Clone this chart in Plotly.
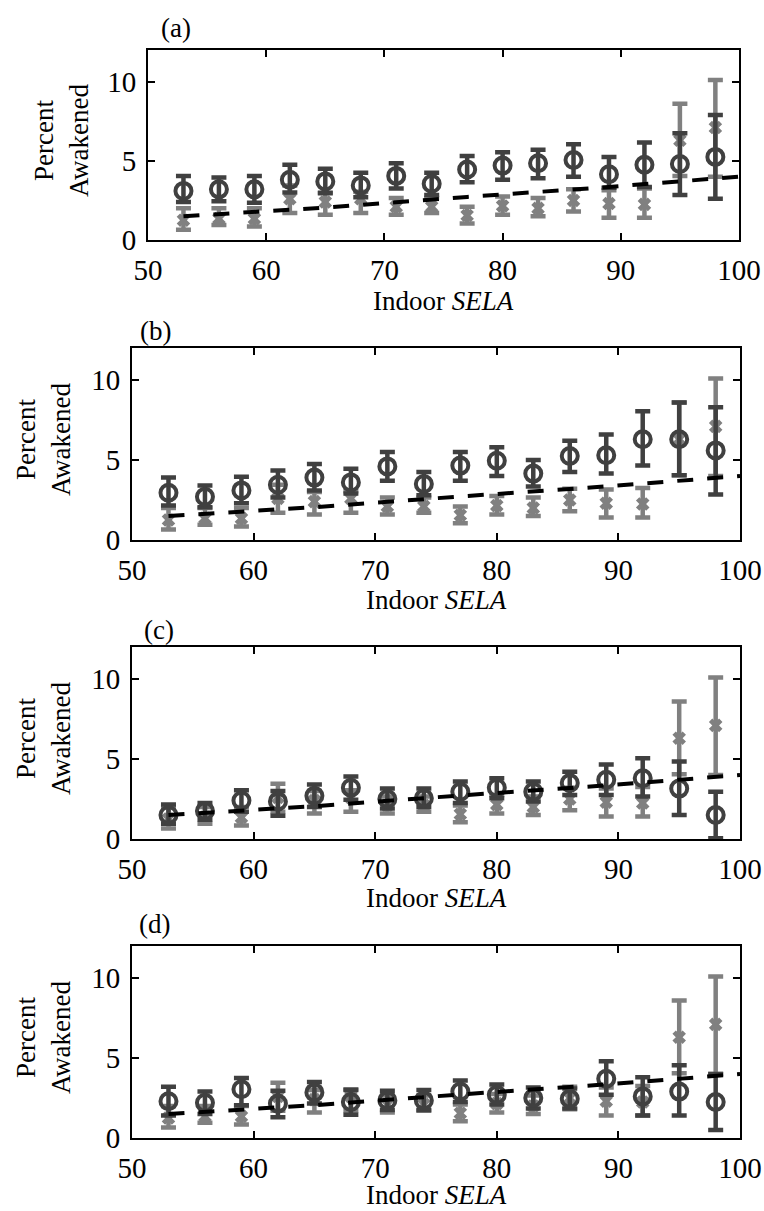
import plotly.graph_objects as go

# ---------------- data ----------------
sela = [53, 56, 59, 62, 65, 68, 71, 74, 77, 80, 83, 86, 89, 92, 95, 98]

# reference series (light grey, identical in every panel)
ref_val = [1.25, 1.35, 1.35, 2.6, 2.4, 2.6, 2.1, 2.1, 1.55, 2.15, 2.0, 2.5, 2.3, 2.25, 6.3, 7.1]
ref_lo = [0.65, 0.95, 0.85, 1.7, 1.6, 1.7, 1.6, 1.7, 1.05, 1.6, 1.5, 1.8, 1.4, 1.4, 4.05, 4.0]
ref_hi = [2.0, 2.0, 2.0, 3.45, 3.0, 3.05, 2.65, 2.65, 2.1, 2.75, 2.65, 3.2, 3.15, 3.25, 8.6, 10.1]

# panel series (dark grey circles)
a_val = [3.1, 3.2, 3.2, 3.8, 3.7, 3.45, 4.05, 3.55, 4.45, 4.7, 4.85, 5.05, 4.15, 4.75, 4.8, 5.25]
a_lo = [2.4, 2.45, 2.35, 3.0, 2.95, 2.7, 3.25, 2.85, 3.65, 3.8, 3.9, 4.0, 3.3, 3.35, 2.85, 2.6]
a_hi = [4.05, 3.95, 4.05, 4.75, 4.5, 4.25, 4.85, 4.25, 5.3, 5.55, 5.7, 6.05, 5.25, 6.15, 6.75, 7.9]

b_val = [2.95, 2.7, 3.1, 3.45, 3.9, 3.6, 4.6, 3.5, 4.65, 4.95, 4.15, 5.25, 5.3, 6.3, 6.3, 5.6]
b_lo = [2.15, 2.05, 2.3, 2.65, 3.1, 2.9, 3.7, 2.8, 3.7, 4.0, 3.35, 4.25, 4.15, 4.65, 4.05, 2.85]
b_hi = [3.9, 3.4, 3.95, 4.35, 4.75, 4.45, 5.5, 4.25, 5.5, 5.8, 5.0, 6.2, 6.6, 8.05, 8.6, 8.3]

c_val = [1.5, 1.75, 2.4, 2.35, 2.7, 3.2, 2.5, 2.55, 2.95, 3.2, 2.95, 3.5, 3.7, 3.8, 3.15, 1.5]
c_lo = [0.95, 1.2, 1.7, 1.45, 2.0, 2.45, 1.9, 2.0, 2.25, 2.55, 2.35, 2.75, 2.75, 2.65, 1.5, 0.05]
c_hi = [2.15, 2.25, 3.05, 3.0, 3.4, 3.9, 3.15, 3.15, 3.6, 3.8, 3.6, 4.2, 4.65, 5.05, 4.85, 2.95]

d_val = [2.3, 2.2, 3.05, 2.15, 2.85, 2.25, 2.35, 2.35, 2.9, 2.7, 2.5, 2.45, 3.7, 2.6, 2.9, 2.25]
d_lo = [1.4, 1.5, 2.05, 1.3, 2.15, 1.45, 1.75, 1.75, 2.25, 2.1, 1.85, 1.85, 2.7, 1.4, 1.4, 0.5]
d_hi = [3.2, 2.9, 3.75, 2.95, 3.5, 3.0, 2.95, 3.0, 3.6, 3.35, 3.15, 3.1, 4.8, 3.8, 4.55, 4.0]

# dose-response fit (black dashed)
fit_x = [53, 65, 77, 89, 100]
fit_y = [1.5, 2.05, 2.72, 3.35, 4.0]

panel_labels = ["(a)", "(b)", "(c)", "(d)"]
x_ticks = [50, 60, 70, 80, 90, 100]
y_ticks = [0, 5, 10]

# ---------------- layout geometry (pixels in 764x1211) ----------------
W, H = 764, 1211
panels = [
    dict(val=a_val, lo=a_lo, hi=a_hi, x0=148, x1=739, top=50, bot=240,
         lab=(176, 28), ytitle_x=62, xtitle_y=301),
    dict(val=b_val, lo=b_lo, hi=b_hi, x0=132, x1=740, top=348, bot=540,
         lab=(155, 331), ytitle_x=43, xtitle_y=600),
    dict(val=c_val, lo=c_lo, hi=c_hi, x0=132, x1=740, top=647, bot=839,
         lab=(159, 630), ytitle_x=43, xtitle_y=898),
    dict(val=d_val, lo=d_lo, hi=d_hi, x0=132, x1=740, top=946, bot=1138,
         lab=(154, 924), ytitle_x=43, xtitle_y=1195),
]

DARK = "#404040"
LIGHT = "#808080"
FONT = "Liberation Serif"
FS = 29
FT = 27

fig = go.Figure()
layout = dict(
    width=W, height=H, margin=dict(l=0, r=0, t=0, b=0),
    paper_bgcolor="white", plot_bgcolor="white", showlegend=False,
    font=dict(family=FONT, size=FS, color="black"),
)
annotations = []

for i, p in enumerate(panels):
    n = "" if i == 0 else str(i + 1)
    xa, ya = "x" + n, "y" + n
    # light reference series
    fig.add_trace(go.Scatter(
        x=sela, y=ref_val, xaxis=xa, yaxis=ya, mode="markers",
        marker=dict(symbol="x", size=12, line=dict(width=0), color=LIGHT),
        error_y=dict(type="data", symmetric=False,
                     array=[h - v for h, v in zip(ref_hi, ref_val)],
                     arrayminus=[v - l for v, l in zip(ref_val, ref_lo)],
                     color=LIGHT, thickness=4.5, width=7.5),
    ))
    # dark panel series
    fig.add_trace(go.Scatter(
        x=sela, y=p["val"], xaxis=xa, yaxis=ya, mode="markers",
        marker=dict(symbol="circle-open", size=16, line=dict(width=4, color=DARK), color=DARK),
        error_y=dict(type="data", symmetric=False,
                     array=[h - v for h, v in zip(p["hi"], p["val"])],
                     arrayminus=[v - l for v, l in zip(p["val"], p["lo"])],
                     color=DARK, thickness=4.5, width=7.5),
    ))
    # fit line
    fig.add_trace(go.Scatter(
        x=fit_x, y=fit_y, xaxis=xa, yaxis=ya, mode="lines",
        line=dict(color="black", width=4, dash="16px,14px"),
    ))

    axis_common = dict(
        showline=True, linecolor="black", linewidth=2, mirror="ticks",
        ticks="inside", ticklen=7, tickwidth=1.5, tickcolor="black",
        showgrid=False, zeroline=False, automargin=False,
        tickfont=dict(family=FONT, size=FS, color="black"),
    )
    layout["xaxis" + n] = dict(
        axis_common, range=[50, 100], tickvals=x_ticks,
        ticktext=[str(t) for t in x_ticks],
        domain=[p["x0"] / W, p["x1"] / W], anchor=ya,
        ticklabelstandoff=3,
    )
    layout["yaxis" + n] = dict(
        axis_common, range=[0, 12], tickvals=y_ticks,
        ticktext=[str(t) for t in y_ticks],
        domain=[1 - p["bot"] / H, 1 - p["top"] / H], anchor=xa,
        ticklabelstandoff=4,
    )
    # panel label
    annotations.append(dict(
        text=panel_labels[i], x=p["lab"][0] / W, y=1 - p["lab"][1] / H,
        xref="paper", yref="paper", xanchor="center", yanchor="middle",
        showarrow=False, font=dict(family=FONT, size=FT, color="black"),
    ))
    # x title
    annotations.append(dict(
        text="Indoor <i>SELA</i>", x=(p["x0"] + p["x1"]) / 2 / W,
        y=1 - p["xtitle_y"] / H,
        xref="paper", yref="paper", xanchor="center", yanchor="middle",
        showarrow=False, font=dict(family=FONT, size=FT, color="black"),
    ))
    # y title
    annotations.append(dict(
        text="Percent<br>Awakened", x=p["ytitle_x"] / W,
        y=1 - ((p["top"] + p["bot"]) / 2 - 4) / H,
        xref="paper", yref="paper", xanchor="center", yanchor="middle",
        textangle=-90, showarrow=False,
        font=dict(family=FONT, size=FT, color="black"),
    ))

layout["annotations"] = annotations
fig.update_layout(**layout)
fig.write_html("out.html")
